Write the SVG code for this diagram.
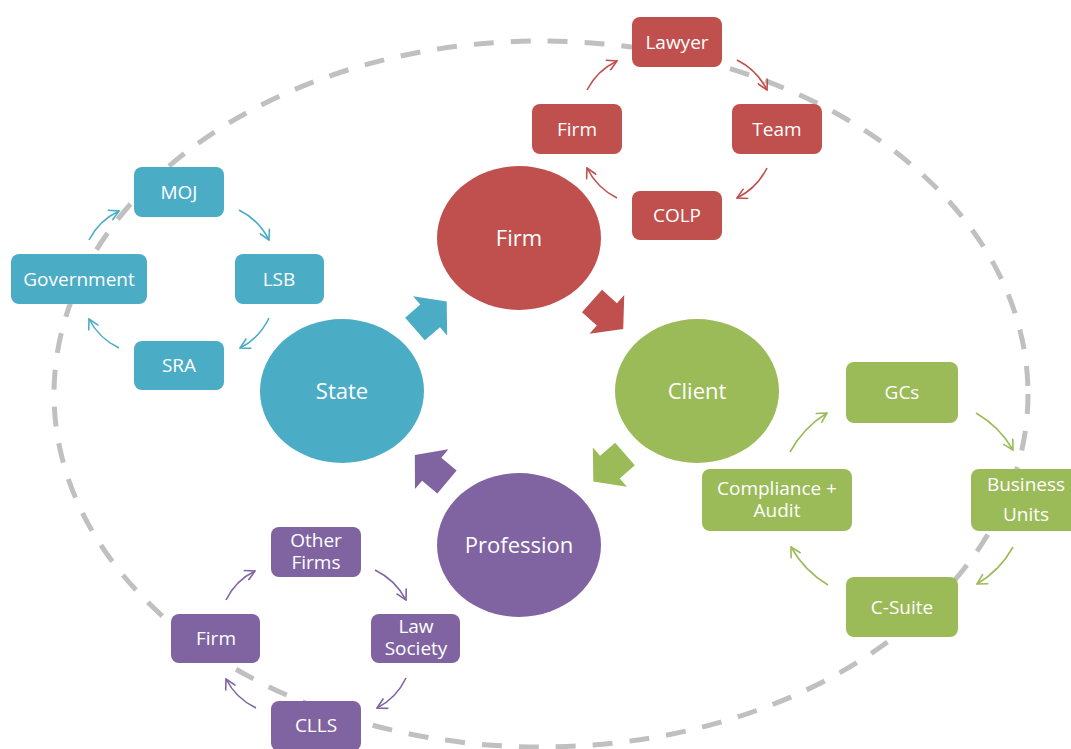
<svg xmlns="http://www.w3.org/2000/svg" width="1071" height="749" viewBox="0 0 1071 749">
<style>
.t{font-family:"Open Sans","Noto Sans","DejaVu Sans",sans-serif;font-size:19px;fill:#ffffff;text-anchor:middle}
.tc{font-family:"Open Sans","Noto Sans","DejaVu Sans",sans-serif;font-size:22px;fill:#ffffff;text-anchor:middle}
.red{fill:#c0504d}.blue{fill:#4bacc6}.green{fill:#9bbb59}.purple{fill:#8064a2}
.c{fill:none;stroke-width:1.6}
.cr{stroke:#c0504d;marker-end:url(#mr)}
.cb{stroke:#4bacc6;marker-end:url(#mb)}
.cg{stroke:#9bbb59;marker-end:url(#mg)}
.cp{stroke:#8064a2;marker-end:url(#mp)}
</style>
<defs>
<marker id="mr" viewBox="0 0 12 12" refX="11" refY="6" markerWidth="12" markerHeight="12" markerUnits="userSpaceOnUse" orient="auto"><path d="M1,0.5 L11,6 L1,11.5" fill="none" stroke="#c0504d" stroke-width="1.6"/></marker>
<marker id="mb" viewBox="0 0 12 12" refX="11" refY="6" markerWidth="12" markerHeight="12" markerUnits="userSpaceOnUse" orient="auto"><path d="M1,0.5 L11,6 L1,11.5" fill="none" stroke="#4bacc6" stroke-width="1.6"/></marker>
<marker id="mg" viewBox="0 0 12 12" refX="11" refY="6" markerWidth="12" markerHeight="12" markerUnits="userSpaceOnUse" orient="auto"><path d="M1,0.5 L11,6 L1,11.5" fill="none" stroke="#9bbb59" stroke-width="1.6"/></marker>
<marker id="mp" viewBox="0 0 12 12" refX="11" refY="6" markerWidth="12" markerHeight="12" markerUnits="userSpaceOnUse" orient="auto"><path d="M1,0.5 L11,6 L1,11.5" fill="none" stroke="#8064a2" stroke-width="1.6"/></marker>
<polygon id="blk" points="0,-15 20,-15 20,-26 42,0 20,26 20,15 0,15"/>
</defs>
<rect width="1071" height="749" fill="#ffffff"/>
<ellipse id="boundary" cx="541" cy="394" rx="487" ry="353" fill="none" stroke="#c0c0c0" stroke-width="5" stroke-dasharray="20 17"/>

<g id="circle-firm"><ellipse class="red" cx="519" cy="238" rx="82" ry="72"/><text class="tc" x="519" y="246">Firm</text></g>
<g id="circle-state"><ellipse class="blue" cx="342" cy="391" rx="82" ry="72"/><text class="tc" x="342" y="399">State</text></g>
<g id="circle-client"><ellipse class="green" cx="697" cy="391" rx="82" ry="72"/><text class="tc" x="697" y="399">Client</text></g>
<g id="circle-profession"><ellipse class="purple" cx="519" cy="545" rx="82" ry="72"/><text class="tc" x="519" y="553">Profession</text></g>

<g id="red-lawyer"><rect class="red" x="632" y="17" width="90" height="50" rx="8"/><text class="t" x="677" y="49">Lawyer</text></g>
<g id="red-team"><rect class="red" x="732" y="104" width="90" height="50" rx="8"/><text class="t" x="777" y="136">Team</text></g>
<g id="red-colp"><rect class="red" x="632" y="191" width="90" height="49" rx="8"/><text class="t" x="677" y="222">COLP</text></g>
<g id="red-firm"><rect class="red" x="532" y="104" width="90" height="50" rx="8"/><text class="t" x="577" y="136">Firm</text></g>

<g id="blue-moj"><rect class="blue" x="134" y="167" width="90" height="50" rx="8"/><text class="t" x="179" y="199">MOJ</text></g>
<g id="blue-lsb"><rect class="blue" x="235" y="254" width="89" height="50" rx="8"/><text class="t" x="279" y="286">LSB</text></g>
<g id="blue-sra"><rect class="blue" x="134" y="341" width="90" height="49" rx="8"/><text class="t" x="179" y="372">SRA</text></g>
<g id="blue-government"><rect class="blue" x="11" y="254" width="136" height="50" rx="8"/><text class="t" x="79" y="286">Government</text></g>

<g id="green-gcs"><rect class="green" x="846" y="362" width="112" height="61" rx="8"/><text class="t" x="902" y="399">GCs</text></g>
<g id="green-business"><rect class="green" x="971" y="469" width="112" height="62" rx="8"/><text class="t" x="1026" y="491">Business</text><text class="t" x="1026" y="521">Units</text></g>
<g id="green-csuite"><rect class="green" x="846" y="577" width="112" height="60" rx="8"/><text class="t" x="902" y="614">C-Suite</text></g>
<g id="green-compliance"><rect class="green" x="702" y="469" width="150" height="62" rx="8"/><text class="t" x="777" y="495">Compliance +</text><text class="t" x="777" y="517">Audit</text></g>

<g id="purple-other"><rect class="purple" x="271" y="527" width="90" height="50" rx="8"/><text class="t" x="316" y="547">Other</text><text class="t" x="316" y="569">Firms</text></g>
<g id="purple-law"><rect class="purple" x="371" y="614" width="89" height="49" rx="8"/><text class="t" x="416" y="633">Law</text><text class="t" x="416" y="655">Society</text></g>
<g id="purple-clls"><rect class="purple" x="271" y="701" width="90" height="50" rx="8"/><text class="t" x="316" y="732">CLLS</text></g>
<g id="purple-firm"><rect class="purple" x="171" y="614" width="89" height="49" rx="8"/><text class="t" x="216" y="645">Firm</text></g>

<g id="connectors">
<use href="#blk" class="blue" transform="translate(415,329) rotate(-41)"/>
<use href="#blk" class="red" transform="translate(592,301) rotate(42)"/>
<use href="#blk" class="green" transform="translate(625,454) rotate(139)"/>
<use href="#blk" class="purple" transform="translate(447,482) rotate(-140)"/>

<path class="c cr" d="M587,90 Q597,70.5 617,61"/>
<path class="c cr" d="M737,60 Q757,70 767,90"/>
<path class="c cr" d="M767,168 Q757,188 737,198"/>
<path class="c cr" d="M617,198 Q597,188 587,168"/>

<path class="c cb" d="M89,240 Q99,220.5 119,211"/>
<path class="c cb" d="M239,210 Q259,220 269,240"/>
<path class="c cb" d="M269,318 Q259.5,338 240,348"/>
<path class="c cb" d="M119,348 Q99,338.5 89,319"/>

<path class="c cg" d="M790,452 Q803.5,427.5 827,413"/>
<path class="c cg" d="M976,413 Q999.5,426.5 1013,450"/>
<path class="c cg" d="M1013,547 Q1000,570.5 977,584"/>
<path class="c cg" d="M828,585 Q804.5,571 791,547"/>

<path class="c cp" d="M226,600 Q235.5,580.5 255,571"/>
<path class="c cp" d="M375,570 Q395.5,580 406,600"/>
<path class="c cp" d="M406,678 Q396.5,698 377,708"/>
<path class="c cp" d="M256,708 Q236,698.5 226,679"/>
</g>
</svg>
